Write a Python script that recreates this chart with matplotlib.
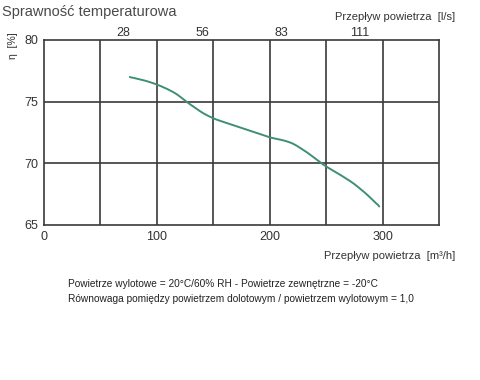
import matplotlib
matplotlib.use("Agg")
import matplotlib.pyplot as plt
import numpy as np

# curve: flow [m3/h] vs efficiency [%]
flow = [76, 90, 100, 110, 118, 126, 134, 141, 151, 174, 200, 213, 221, 233, 248, 262, 274, 286, 297]
eff = [77.0, 76.7, 76.4, 76.0, 75.6, 75.0, 74.5, 74.05, 73.6, 72.9, 72.1, 71.85, 71.6, 70.9, 69.85,
       69.1, 68.4, 67.5, 66.5]

x_ticks = [0, 100, 200, 300]
y_ticks = [65, 70, 75, 80]
top_pos = [70, 140, 210, 280]
top_labels = ["28", "56", "83", "111"]

grid_col = "#3a3a3a"
txt_col = "#333333"
font = ["Liberation Sans", "DejaVu Sans"]
plt.rcParams["font.family"] = font

fig = plt.figure(figsize=(4.8, 3.8), dpi=100)
ax = fig.add_axes([44 / 480, 1 - 225 / 380, 395 / 480, 185 / 380])

# smooth the read points a little for drawing
xs = np.linspace(flow[0], flow[-1], 200)
ys = np.interp(xs, flow, eff)
k = np.ones(7) / 7
ys_s = np.convolve(np.pad(ys, 3, mode="edge"), k, mode="valid")
ys_s[0], ys_s[-1] = ys[0], ys[-1]
ax.plot(xs, ys_s, color="#3f8f72", lw=1.4, solid_capstyle="round")

ax.set_xlim(0, 350)
ax.set_ylim(65, 80)
for v in range(50, 350, 50):
    ax.axvline(v, color=grid_col, lw=1.2, zorder=0)
for v in (70, 75):
    ax.axhline(v, color=grid_col, lw=1.2, zorder=0)
for s in ax.spines.values():
    s.set_color(grid_col)
    s.set_linewidth(1.2)

ax.set_xticks(x_ticks)
ax.set_yticks(y_ticks)
ax.tick_params(length=0, labelsize=9, labelcolor=txt_col, pad=4)

top = ax.secondary_xaxis("top")
top.set_xticks(top_pos)
top.set_xticklabels(top_labels)
top.tick_params(length=0, labelsize=9, labelcolor=txt_col, pad=1)
top.spines["top"].set_visible(False)

fig.text(2 / 480, 1 - 12 / 380, "Sprawność temperaturowa", fontsize=10.5,
         color="#4a4a4a", ha="left", va="center")
fig.text(455 / 480, 1 - 17 / 380, "Przepływ powietrza  [l/s]", fontsize=8,
         color=txt_col, ha="right", va="center")
fig.text(455 / 480, 1 - 256 / 380, "Przepływ powietrza  [m³/h]", fontsize=8,
         color=txt_col, ha="right", va="center")
fig.text(13 / 480, 1 - 46 / 380, "η  [%]", fontsize=7.5, color=txt_col,
         rotation=90, ha="center", va="center")
fig.text(68 / 480, 1 - 284 / 380,
         "Powietrze wylotowe = 20°C/60% RH - Powietrze zewnętrzne = -20°C",
         fontsize=7.3, color="#222222", ha="left", va="center")
fig.text(68 / 480, 1 - 299 / 380,
         "Równowaga pomiędzy powietrzem dolotowym / powietrzem wylotowym = 1,0",
         fontsize=7.3, color="#222222", ha="left", va="center")

fig.savefig("out.png", dpi=100)
